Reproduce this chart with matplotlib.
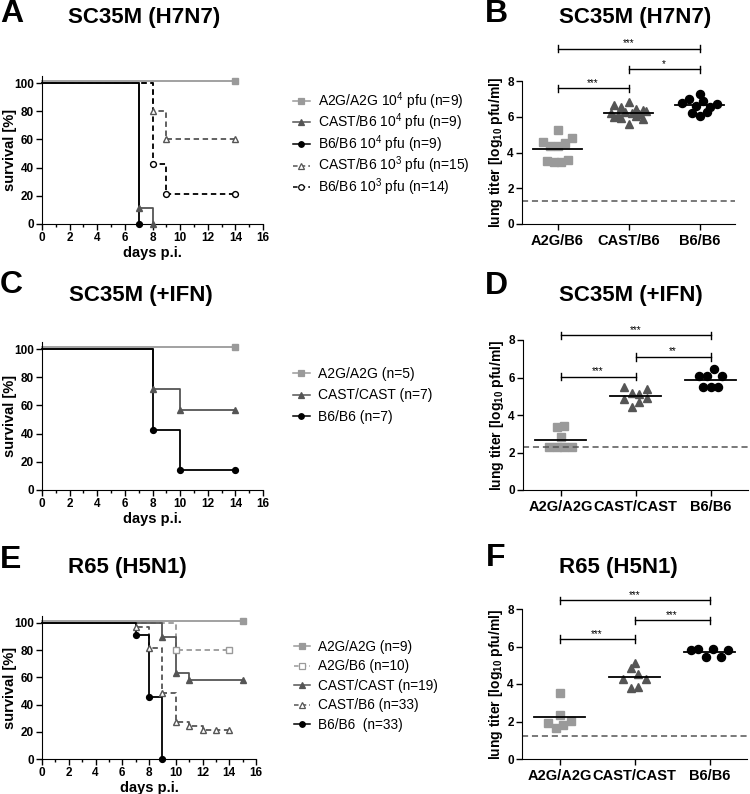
import numpy as np
import matplotlib
matplotlib.use('Agg')
import matplotlib.pyplot as plt
from matplotlib.lines import Line2D

plt.rcParams['font.family'] = ['Liberation Sans', 'DejaVu Sans']
plt.rcParams['mathtext.default'] = 'regular'

# ---------------- survival data (days p.i., % survival) ----------------
# A: SC35M (H7N7)
a_labels = ['A2G/A2G 10$^4$ pfu (n=9)', 'CAST/B6 10$^4$ pfu (n=9)', 'B6/B6 10$^4$ pfu (n=9)',
            'CAST/B6 10$^3$ pfu (n=15)', 'B6/B6 10$^3$ pfu (n=14)']
a_days = [[0, 14], [0, 7, 8], [0, 7], [0, 8, 9, 14], [0, 8, 9, 14]]
a_surv = [[100, 100], [100, 11.1, 0], [100, 0], [100, 80, 60, 60], [100, 42.9, 21.4, 21.4]]

# C: SC35M (+IFN)
c_labels = ['A2G/A2G (n=5)', 'CAST/CAST (n=7)', 'B6/B6 (n=7)']
c_days = [[0, 14], [0, 8, 10, 14], [0, 8, 10, 14]]
c_surv = [[100, 100], [100, 71.4, 57.1, 57.1], [100, 42.9, 14.3, 14.3]]

# E: R65 (H5N1)
e_labels = ['A2G/A2G (n=9)', 'A2G/B6 (n=10)', 'CAST/CAST (n=19)', 'CAST/B6 (n=33)', 'B6/B6  (n=33)']
e_days = [[0, 15], [0, 10, 14], [0, 9, 10, 11, 15],
          [0, 7, 8, 9, 10, 11, 12, 13, 14], [0, 7, 8, 9]]
e_surv = [[100, 100], [100, 80, 80], [100, 89.5, 63.2, 57.9, 57.9],
          [100, 97, 81.8, 48.5, 27.3, 24.2, 21.2, 21.2, 21.2], [100, 90.9, 45.5, 0]]

# ---------------- lung titer data (log10 pfu/ml) ----------------
b_cats = ['A2G/B6', 'CAST/B6', 'B6/B6']
b_vals = [[4.6, 3.5, 4.35, 3.45, 4.35, 5.25, 3.48, 4.55, 3.6, 4.8],
          [6.0, 6.65, 5.95, 6.2, 5.6, 6.55, 6.05, 6.1, 6.8, 6.25, 5.9, 6.2, 6.45, 6.15, 6.3, 6.4],
          [6.75, 6.2, 7.0, 6.05, 7.3, 6.6, 6.25, 6.9, 6.55, 6.7]]
b_limit = 1.3
b_stars = ['***', '*', '***']

d_cats = ['A2G/A2G', 'CAST/CAST', 'B6/B6']
d_vals = [[2.3, 2.3, 3.38, 2.85, 2.3, 3.42, 2.3],
          [5.52, 4.85, 5.2, 4.45, 5.12, 4.7, 5.4, 4.9],
          [5.5, 6.1, 5.5, 6.06, 6.45, 5.5, 6.1]]
d_limit = 2.3
d_stars = ['***', '**', '***']

f_cats = ['A2G/A2G', 'CAST/CAST', 'B6/B6']
f_vals = [[1.93, 1.64, 2.34, 3.54, 1.8, 2.04],
          [4.27, 4.87, 3.8, 5.14, 4.54, 3.86, 4.27],
          [5.82, 5.86, 5.46, 5.89, 5.46, 5.82]]
f_limit = 1.25
f_stars = ['***', '***', '***']

pairs = [(0, 1), (1, 2), (0, 2)]

# ---------------- styles ----------------
LG, DG, BK = '#9a9a9a', '#555555', '#000000'
st_a = [(LG, '-', 's', True), (DG, '-', '^', True), (BK, '-', 'o', True),
        (DG, '--', '^', False), (BK, '--', 'o', False)]
st_c = [(LG, '-', 's', True), (DG, '-', '^', True), (BK, '-', 'o', True)]
st_e = [(LG, '-', 's', True), (LG, '--', 's', False), (DG, '-', '^', True),
        (DG, '--', '^', False), (BK, '-', 'o', True)]

W, H = 750, 794
fig = plt.figure(figsize=(W / 100, H / 100), dpi=100)


def add_ax(l, r, b, t):
    return fig.add_axes([l / W, 1 - b / H, (r - l) / W, (b - t) / H])


def ftext(x, y, s, size, **kw):
    fig.text(x / W, 1 - y / H, s, fontsize=size, fontweight='bold', va='center', **kw)


def bold_ticks(ax):
    for lab in ax.get_xticklabels() + ax.get_yticklabels():
        lab.set_fontweight('bold')


def handle(st):
    col, ls, mk, filled = st
    return Line2D([], [], color=col, ls=ls, lw=1.1, dashes=(3, 2) if ls == '--' else (None, None),
                  marker=mk, ms=4, mfc=col if filled else 'white', mec=col, mew=0.9)


def survival(ax, days, surv, styles, order, width_px):
    for i in order:
        col, ls, mk, filled = styles[i]
        off = 1.5 if (col == LG and ls == '-') else 0
        y = np.array(surv[i], float) + off
        kw = dict(dashes=(3, 2)) if ls == '--' else {}
        ax.step(days[i], y, where='post', color=col, lw=1.3, clip_on=False, **kw)
        ax.plot(days[i][1:], y[1:], ls='none', marker=mk, ms=4.2, mec=col, mew=1,
                mfc=col if filled else 'white', clip_on=False, zorder=4)
    ax.set_xlim(0, 16)
    ax.set_ylim(0, 105)
    ax.set_xticks(range(0, 17, 2))
    ax.set_xticks(range(1, 16, 2), minor=True)
    ax.set_yticks(range(0, 101, 20))
    for sp in ['top', 'right']:
        ax.spines[sp].set_visible(False)
    ax.tick_params(direction='out', length=4, width=1, labelsize=8.5, pad=2)
    ax.tick_params(which='minor', length=2.5, width=1)
    bold_ticks(ax)
    ax.set_xlabel('days p.i.', fontsize=10.5, fontweight='bold', labelpad=1)
    ax.set_ylabel('survival [%]', fontsize=10.5, fontweight='bold')
    ax.yaxis.set_label_coords(-25 / width_px, 0.5)


def swarm(vals, bin_h=0.5, dx=0.1, max_row=6):
    vals = np.asarray(vals, float)
    order = np.argsort(vals, kind='stable')
    offs = np.zeros(len(vals))
    i = 0
    while i < len(order):
        j = i
        while j < len(order) and vals[order[j]] - vals[order[i]] < bin_h and j - i < max_row:
            j += 1
        row = sorted(order[i:j])
        for k, idx in enumerate(row):
            offs[idx] = (k - (len(row) - 1) / 2) * dx
        i = j
    return offs


def titers(ax, cats, vals, limit, stars, heights, width_px):
    marks = [('s', LG), ('^', DG), ('o', BK)]
    for i, v in enumerate(vals):
        mk, col = marks[i]
        x = i + swarm(v)
        ax.plot(x, v, ls='none', marker=mk, ms=5.6 if mk != 'o' else 5.8, color=col, mec=col)
        m = np.mean(v)
        ax.plot([i - 0.34, i + 0.34], [m, m], color='black', lw=1.3)
    ax.axhline(limit, color=DG, ls='--', lw=1.1, dashes=(4, 2.5))
    for (p, q), s, h in zip(pairs, stars, heights):
        ax.plot([p, q], [h, h], color='black', lw=1, clip_on=False)
        for e in (p, q):
            ax.plot([e, e], [h - 0.2, h + 0.2], color='black', lw=1, clip_on=False)
        ax.text((p + q) / 2, h + 0.02, s, ha='center', va='bottom', fontsize=7, clip_on=False)
    ax.set_xlim(-0.5, 2.5)
    ax.set_ylim(0, 8)
    ax.set_xticks(range(3))
    ax.set_xticklabels(cats)
    ax.set_yticks(range(0, 9, 2))
    for sp in ['top', 'right']:
        ax.spines[sp].set_visible(False)
    ax.tick_params(direction='out', length=4, width=1, labelsize=8.5, pad=2)
    ax.tick_params(axis='x', labelsize=10.5, pad=3)
    bold_ticks(ax)
    ax.set_ylabel('lung titer [log$_{10}$ pfu/ml]', fontsize=10, fontweight='bold')
    ax.yaxis.set_label_coords(-17 / width_px, 0.5)


# ---- panel A ----
axA = add_ax(42, 263, 224, 76)
survival(axA, a_days, a_surv, st_a, [3, 4, 0, 1, 2], 221)
fig.legend([handle(s) for s in st_a], a_labels, loc='upper left',
           bbox_to_anchor=(293 / W, 1 - 90 / H), frameon=False, fontsize=10,
           handlelength=1.2, handletextpad=0.6, labelspacing=0.0, borderpad=0, borderaxespad=0)

# ---- panel B ----
axB = add_ax(522, 735, 224, 81)
titers(axB, b_cats, b_vals, b_limit, b_stars, [7.6, 8.65, 9.8], 213)

# ---- panel C ----
axC = add_ax(42, 263, 490, 342)
survival(axC, c_days, c_surv, st_c, [0, 1, 2], 221)
fig.legend([handle(s) for s in st_c], c_labels, loc='upper left',
           bbox_to_anchor=(293 / W, 1 - 367 / H), frameon=False, fontsize=10,
           handlelength=1.2, handletextpad=0.6, labelspacing=0.54, borderpad=0, borderaxespad=0)

# ---- panel D ----
axD = add_ax(523, 748, 490, 340)
titers(axD, d_cats, d_vals, d_limit, d_stars, [6.05, 7.1, 8.25], 225)

# ---- panel E ----
axE = add_ax(42, 256, 759, 616)
survival(axE, e_days, e_surv, st_e, [1, 3, 0, 2, 4], 214)
fig.legend([handle(s) for s in st_e], e_labels, loc='upper left',
           bbox_to_anchor=(294 / W, 1 - 640 / H), frameon=False, fontsize=9.8,
           handlelength=1.2, handletextpad=0.6, labelspacing=0.40, borderpad=0, borderaxespad=0)

# ---- panel F ----
axF = add_ax(522, 747, 759, 609)
titers(axF, f_cats, f_vals, f_limit, f_stars, [6.39, 7.39, 8.46], 225)

# ---- titles and panel letters ----
ftext(144, 17, 'SC35M (H7N7)', 16, ha='center')
ftext(635, 17, 'SC35M (H7N7)', 16, ha='center')
ftext(141, 295, 'SC35M (+IFN)', 16, ha='center')
ftext(631, 295, 'SC35M (+IFN)', 16, ha='center')
ftext(127, 567, 'R65 (H5N1)', 16, ha='center')
ftext(618, 567, 'R65 (H5N1)', 16, ha='center')
ftext(0, 14, 'A', 23, ha='left')
ftext(485, 14, 'B', 23, ha='left')
ftext(0, 285, 'C', 23, ha='left')
ftext(485, 286, 'D', 23, ha='left')
ftext(0, 560, 'E', 23, ha='left')
ftext(486, 558, 'F', 23, ha='left')

fig.savefig('out.png', dpi=100)
